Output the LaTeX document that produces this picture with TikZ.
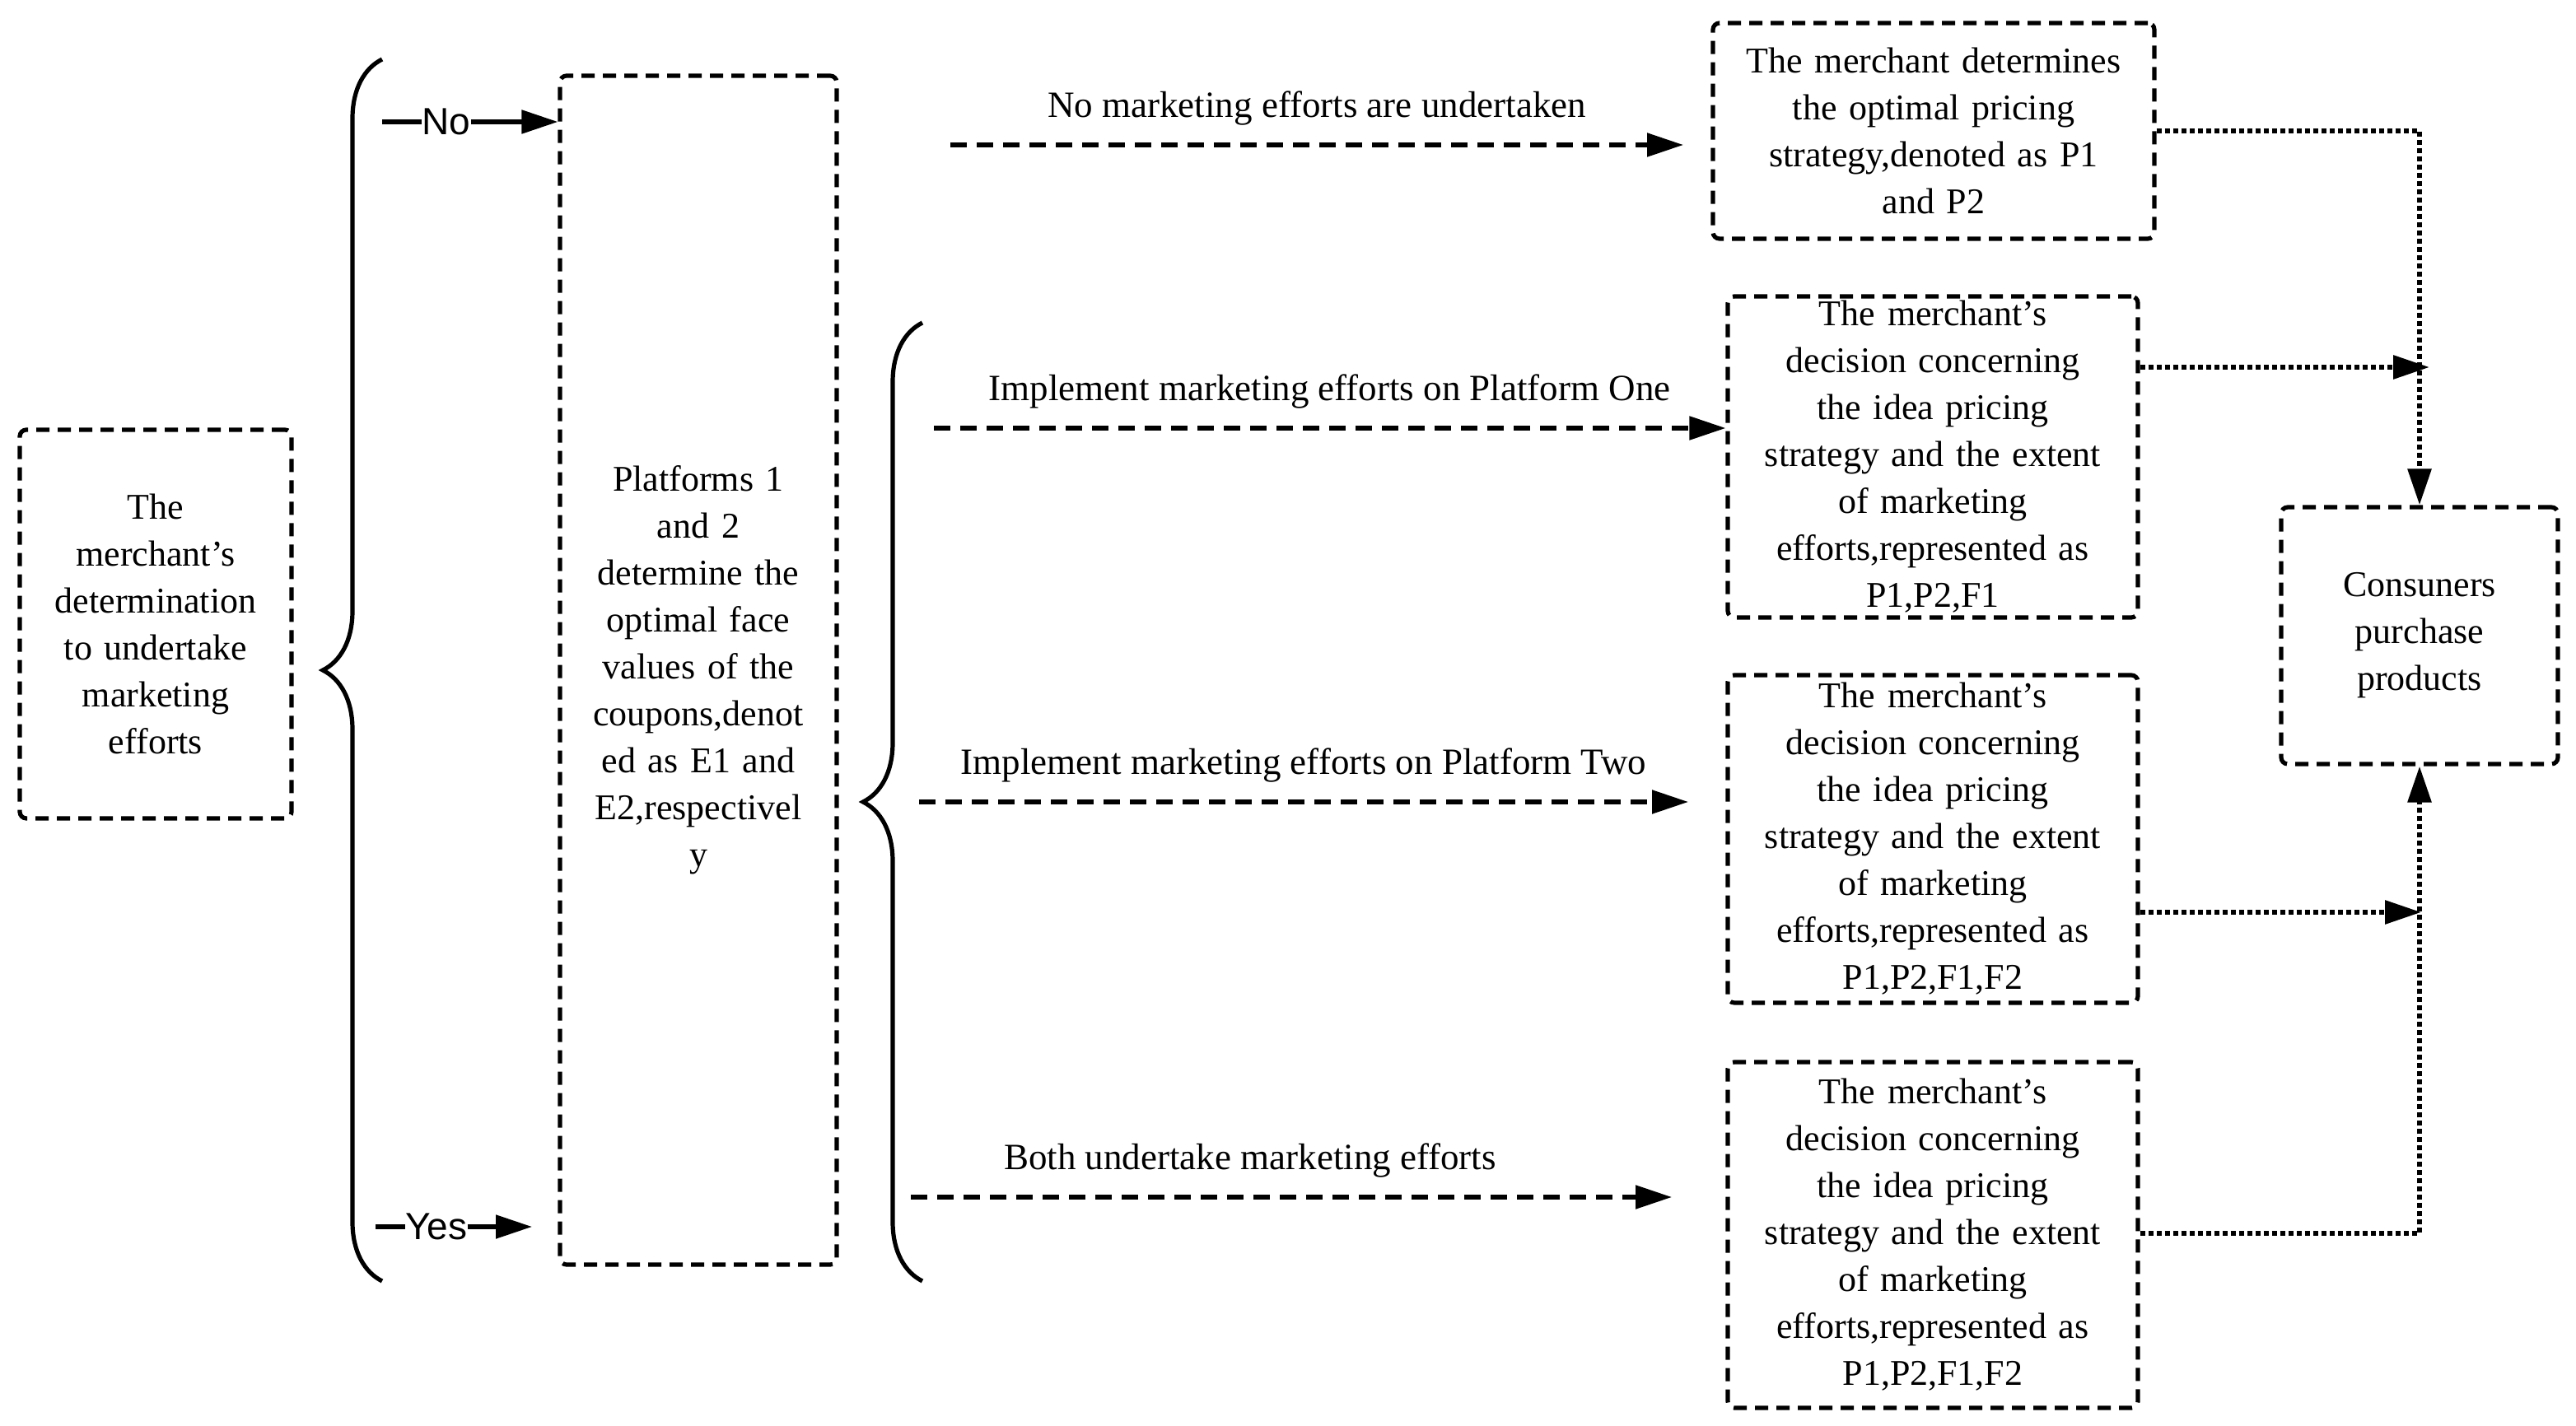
\documentclass[tikz,border=0pt]{standalone}
\usepackage{fontspec}
\setmainfont{Liberation Serif}
\newfontfamily\sansf{Liberation Sans}
\usetikzlibrary{arrows.meta,decorations.pathreplacing}
\begin{document}
\begin{tikzpicture}[x=1pt,y=1pt,yscale=-1,
  box/.style={draw,dashed,dash pattern=on 8pt off 5pt,line width=2.6pt,rounded corners=4pt,inner sep=0pt,align=center,font=\fontsize{22}{28.5}\selectfont},
  lab/.style={inner sep=0pt,font=\fontsize{22.5}{26}\selectfont},
  dsh/.style={dashed,dash pattern=on 10pt off 6pt,line width=2.6pt,-{Triangle[length=22pt,width=14pt]}},
  dot/.style={dotted,line width=3pt,-{Triangle[length=22pt,width=14pt]}},
  brc/.style={decorate,decoration={brace,amplitude=36pt,raise=0pt},line width=2.6pt}]
\useasboundingbox (0,0) rectangle (1564,866);

% Boxes
\node[box,minimum width=165pt,minimum height=236pt,text width=160pt] (merchant) at (94.5,379) {The\\merchant's\\determination\\to undertake\\marketing\\efforts};
\node[box,minimum width=168pt,minimum height=722pt,text width=164pt] (platform) at (424,407) {Platforms 1\\and 2\\determine the\\optimal face\\values of the\\coupons,denot\\ed as E1 and\\E2,respectivel\\y};
\node[box,minimum width=268pt,minimum height=131pt,text width=264pt] (none) at (1174,79.5) {The merchant determines\\the optimal pricing\\strategy,denoted as P1\\and P2};
\node[box,minimum width=249pt,minimum height=195pt,text width=247pt] (one) at (1173.5,277.5) {The merchant's\\decision concerning\\the idea pricing\\strategy and the extent\\of marketing\\efforts,represented as\\P1,P2,F1};
\node[box,minimum width=249pt,minimum height=199pt,text width=247pt] (two) at (1173.5,509.5) {The merchant's\\decision concerning\\the idea pricing\\strategy and the extent\\of marketing\\efforts,represented as\\P1,P2,F1,F2};
\node[box,minimum width=249pt,minimum height=210pt,text width=247pt] (both) at (1173.5,750) {The merchant's\\decision concerning\\the idea pricing\\strategy and the extent\\of marketing\\efforts,represented as\\P1,P2,F1,F2};
\node[box,minimum width=168pt,minimum height=156pt,text width=164pt] (consumer) at (1469,386) {Consuners\\purchase\\products};

% Braces
\draw[brc] (232,778) -- (232,36);
\draw[brc] (560,778) -- (560,196);

% No / Yes
\node[lab,font=\sansf\fontsize{23}{26}\selectfont] (no) at (271,74) {No};
\node[lab,font=\sansf\fontsize{23}{26}\selectfont] (yes) at (265,745) {Yes};
\draw[line width=2.6pt] (232,74) -- (no.west);
\draw[line width=2.6pt,-{Triangle[length=22pt,width=14pt]}] (no.east) -- (platform.west |- no);
\draw[line width=2.6pt] (228,745) -- (yes.west);
\draw[line width=2.6pt,-{Triangle[length=22pt,width=14pt]}] (yes.east) -- (323,745);

% Dashed arrows with labels
\coordinate (s0) at (577,88);
\coordinate (s1) at (567,260);
\coordinate (s2) at (558,487);
\coordinate (s3) at (553,727);
\draw[dsh] (s0) -- (1022,88) node[lab,midway,yshift=22pt] {No marketing efforts are undertaken};
\draw[dsh] (s1) -- (one.west |- s1) node[lab,midway,yshift=22pt] {Implement marketing efforts on Platform One};
\draw[dsh] (s2) -- (1025,487) node[lab,midway,yshift=22pt] {Implement marketing efforts on Platform Two};
\draw[dsh] (s3) -- (1015,727) node[lab,midway,yshift=22pt,xshift=-25pt] {Both undertake marketing efforts};

% Dotted connectors
\draw[dot] (none.east) -- (consumer.north |- none.east) -- (consumer.north);
\draw[dot] (one.east |- 0,223) -- (1475,223);
\draw[dot] (two.east |- 0,554) -- (1470,554);
\draw[dot] (both.east |- 0,749) -- (consumer.south |- 0,749) -- (consumer.south);
\end{tikzpicture}
\end{document}
